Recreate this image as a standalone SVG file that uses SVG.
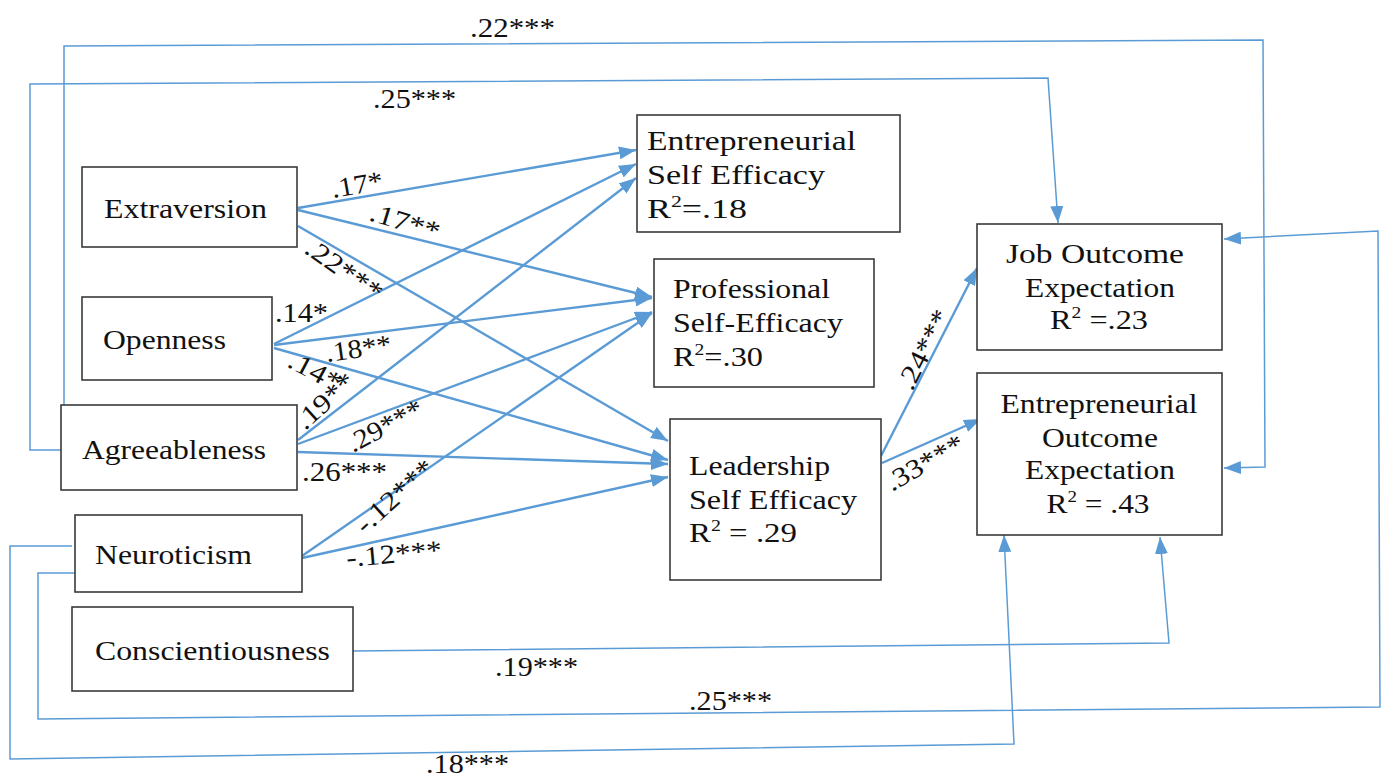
<svg xmlns="http://www.w3.org/2000/svg" width="1386" height="777" viewBox="0 0 1386 777">
  <style>
    .box { fill: #ffffff; stroke: #3a3a3a; stroke-width: 1.6; }
    .lbl { font-family: "Liberation Serif", "Times New Roman", serif; font-size: 28px; fill: #111111; }
    .coef { font-family: "Liberation Serif", "Times New Roman", serif; font-size: 27px; fill: #111111; }
    .arr { fill: none; stroke: #5b9bd5; stroke-width: 2.4; marker-end: url(#ah); }
    .patharr { fill: none; stroke: #5b9bd5; stroke-width: 1.5; marker-end: url(#ah); }
  </style>
  <defs>
    <marker id="ah" markerWidth="17" markerHeight="13" refX="17" refY="6.5" orient="auto" markerUnits="userSpaceOnUse">
      <path d="M0,0 L17,6.5 L0,13 Z" fill="#5b9bd5"/>
    </marker>
  </defs>
  <rect width="1386" height="777" fill="#ffffff"/>

  <!-- connectors -->
  <g id="connectors">
    <!-- Extraversion -->
    <path class="arr" d="M298,208 L636,150"/>
    <path class="arr" d="M298,210 L652,297"/>
    <path class="arr" d="M298,226 L668,441"/>
    <!-- Openness -->
    <path class="arr" d="M274,344 L636,164"/>
    <path class="arr" d="M274,345 L652,298"/>
    <path class="arr" d="M274,348 L668,460"/>
    <!-- Agreeableness -->
    <path class="arr" d="M298,440 L636,178"/>
    <path class="arr" d="M298,444 L652,312"/>
    <path class="arr" d="M298,452 L668,464"/>
    <!-- Neuroticism -->
    <path class="arr" d="M302,556 L652,313"/>
    <path class="arr" d="M302,558 L668,477"/>
    <!-- Leadership to outcomes -->
    <path class="arr" d="M881,456 L977,268"/>
    <path class="arr" d="M882,463 L981,419"/>

    <!-- long routed paths -->
    <path class="patharr" d="M64,405 L64,46 L1263,40 L1265,467 L1224,468"/>
    <path class="patharr" d="M61,450 L30,450 L30,84 L1048,78 L1058,223"/>
    <path class="patharr" d="M77,573 L38,573 L38,719 L1380,707 L1378,231 L1224,239"/>
    <path class="patharr" d="M72,546 L10,546 L10,759 L1014,744 L1004,535"/>
    <path class="patharr" d="M352,651 L1169,643 L1160,537"/>
  </g>

  <!-- coefficient labels -->
  <g id="coefficients">
    <text class="coef" x="333" y="198" textLength="52" lengthAdjust="spacingAndGlyphs" transform="rotate(-10 333 198)">.17*</text>
    <text class="coef" x="368" y="220" textLength="72" lengthAdjust="spacingAndGlyphs" transform="rotate(17 368 220)">.17**</text>
    <text class="coef" x="303" y="252" textLength="88" lengthAdjust="spacingAndGlyphs" transform="rotate(35 303 252)">.22***</text>
    <text class="coef" x="275" y="322" textLength="53" lengthAdjust="spacingAndGlyphs">.14*</text>
    <text class="coef" x="327" y="362" textLength="66" lengthAdjust="spacingAndGlyphs" transform="rotate(-8 327 362)">.18**</text>
    <text class="coef" x="286" y="366" textLength="56" lengthAdjust="spacingAndGlyphs" transform="rotate(28 286 366)">.14*</text>
    <text class="coef" x="305" y="431" textLength="70" lengthAdjust="spacingAndGlyphs" transform="rotate(-42 305 431)">.19**</text>
    <text class="coef" x="353" y="453" textLength="82" lengthAdjust="spacingAndGlyphs" transform="rotate(-28 353 453)">.29***</text>
    <text class="coef" x="302" y="481" textLength="85" lengthAdjust="spacingAndGlyphs">.26***</text>
    <text class="coef" x="365" y="535" textLength="96" lengthAdjust="spacingAndGlyphs" transform="rotate(-42 365 535)">-.12***</text>
    <text class="coef" x="347" y="567" textLength="96" lengthAdjust="spacingAndGlyphs" transform="rotate(-5 347 567)">-.12***</text>
    <text class="coef" x="912" y="392" textLength="86" lengthAdjust="spacingAndGlyphs" transform="rotate(-63 912 392)">.24***</text>
    <text class="coef" x="892" y="492" textLength="86" lengthAdjust="spacingAndGlyphs" transform="rotate(-30 892 492)">.33***</text>
    <text class="coef" x="470" y="37" textLength="85" lengthAdjust="spacingAndGlyphs">.22***</text>
    <text class="coef" x="373" y="108" textLength="83" lengthAdjust="spacingAndGlyphs">.25***</text>
    <text class="coef" x="495" y="676" textLength="83" lengthAdjust="spacingAndGlyphs">.19***</text>
    <text class="coef" x="689" y="710" textLength="83" lengthAdjust="spacingAndGlyphs">.25***</text>
    <text class="coef" x="426" y="773" textLength="83" lengthAdjust="spacingAndGlyphs">.18***</text>
  </g>

  <!-- predictor nodes -->
  <g id="extraversion">
    <rect class="box" x="82" y="167" width="215" height="80"/>
    <text class="lbl" x="104" y="218" textLength="163" lengthAdjust="spacingAndGlyphs">Extraversion</text>
  </g>
  <g id="openness">
    <rect class="box" x="82" y="297" width="190" height="83"/>
    <text class="lbl" x="103" y="349" textLength="123" lengthAdjust="spacingAndGlyphs">Openness</text>
  </g>
  <g id="agreeableness">
    <rect class="box" x="61" y="405" width="236" height="85"/>
    <text class="lbl" x="82" y="459" textLength="184" lengthAdjust="spacingAndGlyphs">Agreeableness</text>
  </g>
  <g id="neuroticism">
    <rect class="box" x="75" y="515" width="227" height="77"/>
    <text class="lbl" x="95" y="564" textLength="157" lengthAdjust="spacingAndGlyphs">Neuroticism</text>
  </g>
  <g id="conscientiousness">
    <rect class="box" x="72" y="607" width="281" height="84"/>
    <text class="lbl" x="95" y="660" textLength="235" lengthAdjust="spacingAndGlyphs">Conscientiousness</text>
  </g>

  <!-- self-efficacy nodes -->
  <g id="entrepreneurial-self-efficacy">
    <rect class="box" x="637" y="115" width="263" height="117"/>
    <text class="lbl" x="647" y="150" textLength="209" lengthAdjust="spacingAndGlyphs">Entrepreneurial</text>
    <text class="lbl" x="647" y="184" textLength="178" lengthAdjust="spacingAndGlyphs">Self Efficacy</text>
    <text class="lbl" x="647" y="218" textLength="100" lengthAdjust="spacingAndGlyphs">R<tspan dy="-11" font-size="17">2</tspan><tspan dy="11">=.18</tspan></text>
  </g>
  <g id="professional-self-efficacy">
    <rect class="box" x="654" y="259" width="220" height="128"/>
    <text class="lbl" x="673" y="298" textLength="157" lengthAdjust="spacingAndGlyphs">Professional</text>
    <text class="lbl" x="673" y="332" textLength="170" lengthAdjust="spacingAndGlyphs">Self-Efficacy</text>
    <text class="lbl" x="673" y="366" textLength="90" lengthAdjust="spacingAndGlyphs">R<tspan dy="-11" font-size="17">2</tspan><tspan dy="11">=.30</tspan></text>
  </g>
  <g id="leadership-self-efficacy">
    <rect class="box" x="670" y="419" width="211" height="161"/>
    <text class="lbl" x="689" y="475" textLength="141" lengthAdjust="spacingAndGlyphs">Leadership</text>
    <text class="lbl" x="689" y="509" textLength="168" lengthAdjust="spacingAndGlyphs">Self Efficacy</text>
    <text class="lbl" x="689" y="542" textLength="108" lengthAdjust="spacingAndGlyphs">R<tspan dy="-11" font-size="17">2</tspan><tspan dy="11"> = .29</tspan></text>
  </g>

  <!-- outcome nodes -->
  <g id="job-outcome-expectation">
    <rect class="box" x="977" y="224" width="245" height="126"/>
    <text class="lbl" x="1095" y="263" text-anchor="middle" textLength="178" lengthAdjust="spacingAndGlyphs">Job Outcome</text>
    <text class="lbl" x="1100" y="297" text-anchor="middle" textLength="150" lengthAdjust="spacingAndGlyphs">Expectation</text>
    <text class="lbl" x="1099" y="329" text-anchor="middle" textLength="98" lengthAdjust="spacingAndGlyphs">R<tspan dy="-11" font-size="17">2</tspan><tspan dy="11"> =.23</tspan></text>
  </g>
  <g id="entrepreneurial-outcome-expectation">
    <rect class="box" x="977" y="373" width="245" height="162"/>
    <text class="lbl" x="1099" y="413" text-anchor="middle" textLength="197" lengthAdjust="spacingAndGlyphs">Entrepreneurial</text>
    <text class="lbl" x="1100" y="447" text-anchor="middle" textLength="116" lengthAdjust="spacingAndGlyphs">Outcome</text>
    <text class="lbl" x="1100" y="479" text-anchor="middle" textLength="150" lengthAdjust="spacingAndGlyphs">Expectation</text>
    <text class="lbl" x="1098" y="513" text-anchor="middle" textLength="103" lengthAdjust="spacingAndGlyphs">R<tspan dy="-11" font-size="17">2</tspan><tspan dy="11"> = .43</tspan></text>
  </g>
</svg>
